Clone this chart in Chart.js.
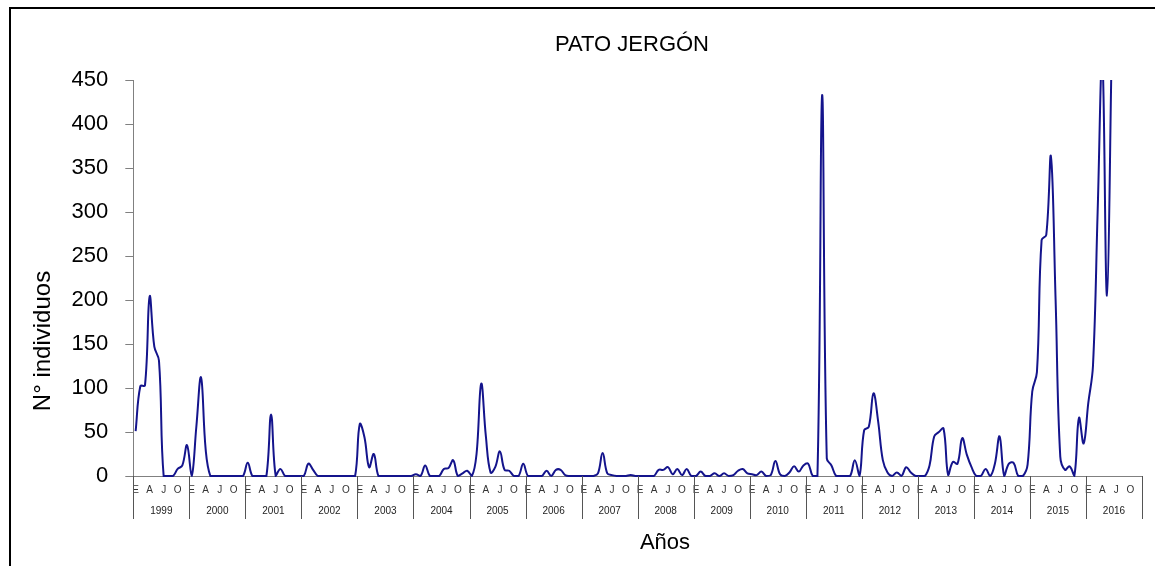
<!DOCTYPE html>
<html lang="es">
<head>
  <meta charset="UTF-8">
  <title>Pato jergón</title>
  <script src="https://cdn.jsdelivr.net/npm/chart.js@4.4.1/dist/chart.umd.min.js"></script>
  <style>
    html, body { margin: 0; padding: 0; background: #fff; }
    #wrap { width: 1155px; height: 566px; }
  </style>
</head>
<body>
  <div id="wrap"><canvas id="myChart" width="1155" height="566"></canvas></div>

  <script>
    // tick labels
    const years = ['1999', '2000', '2001', '2002', '2003', '2004', '2005', '2006', '2007',
                   '2008', '2009', '2010', '2011', '2012', '2013', '2014', '2015', '2016'];
    const monthTicks = ['E', '', '', 'A', '', '', 'J', '', '', 'O', '', ''];
    const yTicks = [0, 50, 100, 150, 200, 250, 300, 350, 400, 450];

    // monthly counts, Jan..Dec of each year
    const individuos = [
      51, 102, 103, 204, 147, 131, 0, 0, 0, 8, 12, 35,        // 1999
      0, 56, 112, 30, 0, 0, 0, 0, 0, 0, 0, 0,                 // 2000
      15, 0, 0, 0, 0, 70, 0, 8, 0, 0, 0, 0,                   // 2001
      0, 14, 7, 0, 0, 0, 0, 0, 0, 0, 0, 0,                    // 2002
      59, 44, 10, 25, 0, 0, 0, 0, 0, 0, 0, 0,                 // 2003
      2, 0, 12, 0, 0, 0, 8, 9, 18, 0, 3, 6,                   // 2004
      0, 25, 105, 45, 4, 10, 28, 7, 6, 0, 0, 14,              // 2005
      0, 0, 0, 0, 6, 0, 7, 7, 1, 0, 0, 0,                     // 2006
      0, 0, 0, 3, 26, 3, 1, 0, 0, 0, 1, 0,                    // 2007
      0, 0, 0, 0, 7, 7, 10, 2, 8, 1, 8, 0,                    // 2008
      0, 5, 0, 0, 3, 0, 3, 0, 1, 6, 8, 3,                     // 2009
      2, 1, 5, 0, 1, 17, 2, 0, 4, 11, 5, 12,                  // 2010
      14, 0, 0, 433, 20, 12, 0, 0, 0, 0, 18, 0,               // 2011
      52, 56, 94, 62, 18, 4, 0, 4, 0, 10, 4, 0,               // 2012
      0, 0, 12, 45, 50, 54, 1, 16, 14, 43, 24, 10,            // 2013
      0, 0, 8, 0, 14, 45, 0, 14, 15, 0, 0, 13,                // 2014
      96, 118, 268, 274, 363, 200, 22, 7, 11, 0, 66, 37,      // 2015
      83, 125, 300, 475, 205, 480, null, null, null, null, null, null  // 2016
    ];

    const labels = [];
    years.forEach(y => monthTicks.forEach((m, i) => labels.push(y + '-' + (i + 1))));

    const FONT = 'Arial, "Liberation Sans", sans-serif';

    // year separators, frame and the free-standing titles
    const extras = {
      id: 'extras',
      afterDraw(chart) {
        const ctx = chart.ctx;
        const x = chart.scales.x;
        const y = chart.scales.y;
        const half = (x.getPixelForValue(1) - x.getPixelForValue(0)) / 2;

        ctx.save();
        ctx.strokeStyle = '#555';
        ctx.lineWidth = 1;
        ctx.beginPath();
        for (let k = 0; k <= years.length; k++) {
          const px = k < years.length
            ? x.getPixelForValue(k * 12) - half
            : x.getPixelForValue(k * 12 - 1) + half;
          const xx = Math.round(px) + 0.5;
          ctx.moveTo(xx, y.bottom);
          ctx.lineTo(xx, y.bottom + 43);
        }
        ctx.stroke();

        // outer frame (cut off at right and bottom like the original)
        ctx.strokeStyle = '#000';
        ctx.lineWidth = 2;
        ctx.strokeRect(10, 8, 1300, 700);

        ctx.fillStyle = '#000';
        ctx.textAlign = 'center';
        ctx.textBaseline = 'middle';
        ctx.font = '22px ' + FONT;
        ctx.fillText('PATO JERGÓN', 632, 45);
        ctx.fillText('Años', 665, 543);

        ctx.translate(43, 341);
        ctx.rotate(-Math.PI / 2);
        ctx.font = '24px ' + FONT;
        ctx.fillText('N° individuos', 0, 0);
        ctx.restore();
      }
    };

    const ctx = document.getElementById('myChart').getContext('2d');
    const myChart = new Chart(ctx, {
      type: 'line',
      data: {
        labels: labels,
        datasets: [{
          label: 'Pato jergón',
          data: individuos,
          borderColor: '#14148c',
          borderWidth: 2,
          pointRadius: 0,
          tension: 0.4,
          fill: false,
          clip: { left: 5, right: 5, top: 0, bottom: 5 }
        }]
      },
      options: {
        responsive: false,
        animation: false,
        devicePixelRatio: 1,
        layout: { padding: { top: 80, right: 13, bottom: 0, left: 0 } },
        plugins: {
          legend: { display: false },
          title: { display: false },
          tooltip: { enabled: false }
        },
        scales: {
          y: {
            min: 0,
            max: 450,
            afterFit: s => { s.width = 133.3; },
            afterBuildTicks: s => { s.ticks = yTicks.map(v => ({ value: v })); },
            ticks: { font: { size: 22, family: FONT }, color: '#000', padding: 17 },
            grid: { drawOnChartArea: false, drawTicks: true, tickLength: 8, color: '#808080' },
            border: { color: '#808080', width: 1 }
          },
          x: {
            type: 'category',
            offset: true,
            weight: 0,
            afterFit: s => { s.height = 20; },
            ticks: {
              autoSkip: false,
              maxRotation: 0,
              padding: 8,
              font: { size: 10, family: FONT },
              color: '#333',
              callback: (v, i) => monthTicks[i % 12]
            },
            grid: { display: false, drawTicks: false },
            border: { color: '#808080', width: 1 }
          },
          x2: {
            type: 'category',
            position: 'bottom',
            labels: years,
            offset: true,
            weight: 1,
            afterFit: s => { s.height = 70; },
            ticks: {
              autoSkip: false,
              maxRotation: 0,
              padding: 9.7,
              font: { size: 10, family: FONT },
              color: '#222'
            },
            grid: { display: false, drawTicks: false },
            border: { display: false }
          }
        }
      },
      plugins: [extras]
    });
  </script>
</body>
</html>
